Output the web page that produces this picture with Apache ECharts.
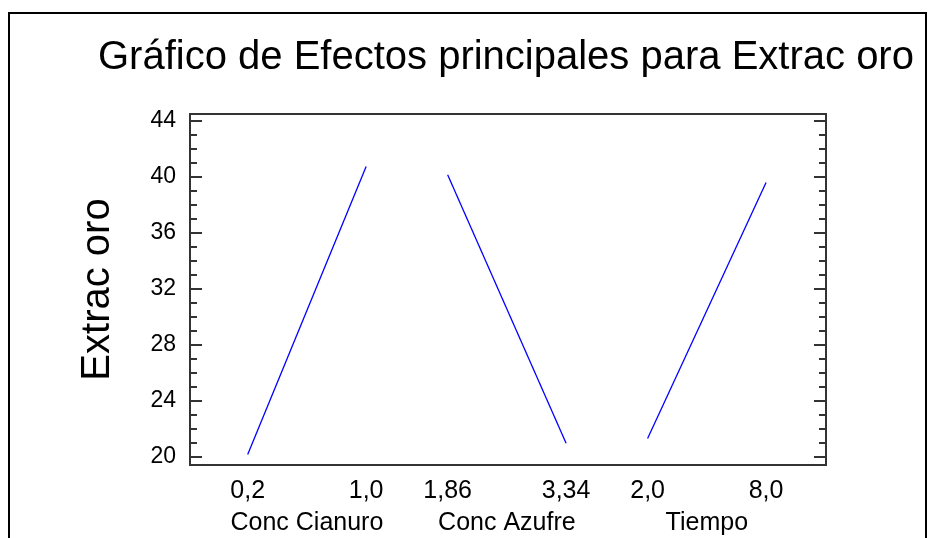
<!DOCTYPE html>
<html>
<head>
<meta charset="utf-8">
<script src="https://cdn.jsdelivr.net/npm/echarts@6/dist/echarts.min.js"></script>
<style>
  html, body { margin: 0; padding: 0; background: #fff; }
  #wrap { position: relative; width: 928px; height: 538px; overflow: hidden; }
  #chart { position: absolute; left: 0; top: 0; width: 928px; height: 538px; }
  #frame { position: absolute; left: 8px; top: 12px; width: 915px; height: 600px;
           border: 2px solid #000; pointer-events: none; }
</style>
</head>
<body>
<div id="wrap"><div id="chart"></div><div id="frame"></div></div>
<script>
// ---- data ----
const titleText = 'Gráfico de Efectos principales para Extrac oro';
const yName = 'Extrac oro';
const factors = ['Conc Cianuro', 'Conc Azufre', 'Tiempo'];
const lowLabels = ['0,2', '1,86', '2,0'];
const highLabels = ['1,0', '3,34', '8,0'];
const lowMeans = [20.15, 40.15, 21.3];
const highMeans = [40.75, 20.95, 39.6];
const yMajorTicks = [20, 24, 28, 32, 36, 40, 44];
const yMinorTicks = [20, 21, 22, 23, 24, 25, 26, 27, 28, 29, 30, 31, 32, 33, 34, 35, 36, 37, 38, 39, 40, 41, 42, 43, 44];

// ---- layout helpers (factor slot positions on the x value axis) ----
const STEP = 1.688;
const X_MIN = -0.487;
const X_MAX = 2 * STEP + 1 + 0.506;
const Y_MIN = 19.4;
const Y_MAX = 44.5;
const FONT = 'Arial, "Liberation Sans", sans-serif';

const pos = (f, level) => f * STEP + level;
const levelPositions = [];
const levelTexts = [];
const factorCenters = [];
factors.forEach((name, f) => {
  levelPositions.push(pos(f, 0), pos(f, 1));
  levelTexts.push(lowLabels[f], highLabels[f]);
  factorCenters.push(pos(f, 0.5));
});
const nearestIndex = (arr, v) => {
  let best = 0;
  arr.forEach((p, i) => { if (Math.abs(p - v) < Math.abs(arr[best] - v)) best = i; });
  return best;
};

const series = factors.map((name, f) => ({
  name: name,
  type: 'line',
  xAxisIndex: 0,
  yAxisIndex: 0,
  symbol: 'none',
  silent: true,
  lineStyle: { color: '#0000ff', width: 1.3 },
  data: [[pos(f, 0), lowMeans[f]], [pos(f, 1), highMeans[f]]]
}));

const tickStyle = { color: '#333', width: 2 };
function yAx(position, values, len, labels) {
  return {
    type: 'value', position: position, min: Y_MIN, max: Y_MAX,
    axisLine: { show: false, onZero: false },
    splitLine: { show: false },
    axisTick: { show: true, inside: true, length: len, customValues: values, lineStyle: tickStyle },
    axisLabel: labels ? {
      show: true, customValues: values, margin: 14,
      fontFamily: FONT, fontSize: 23, color: '#000'
    } : { show: false },
    name: labels ? yName : '',
    nameLocation: 'middle',
    nameGap: 72,
    nameTextStyle: { fontFamily: FONT, fontSize: 40, color: '#000' }
  };
}

const chart = echarts.init(document.getElementById('chart'), null, { renderer: 'canvas' });
chart.setOption({
  animation: false,
  backgroundColor: 'transparent',
  title: {
    text: titleText,
    left: 98, top: 38, padding: 0,
    textStyle: { fontFamily: FONT, fontSize: 40, fontWeight: 'normal', color: '#000' }
  },
  grid: {
    left: 190, right: 102, top: 114, bottom: 73,
    show: true, borderColor: '#333', borderWidth: 2, backgroundColor: 'transparent'
  },
  xAxis: [
    {
      type: 'value', min: X_MIN, max: X_MAX, position: 'bottom',
      axisLine: { show: false, onZero: false }, axisTick: { show: false }, splitLine: { show: false },
      axisLabel: {
        customValues: levelPositions, margin: 14,
        fontFamily: FONT, fontSize: 25, color: '#000',
        formatter: v => levelTexts[nearestIndex(levelPositions, v)]
      }
    },
    {
      type: 'value', min: X_MIN, max: X_MAX, position: 'bottom',
      axisLine: { show: false, onZero: false }, axisTick: { show: false }, splitLine: { show: false },
      axisLabel: {
        customValues: factorCenters, margin: 46,
        fontFamily: FONT, fontSize: 25, color: '#000',
        formatter: v => factors[nearestIndex(factorCenters, v)]
      }
    }
  ],
  yAxis: [
    yAx('left', yMajorTicks, 12, true),
    yAx('left', yMinorTicks, 7, false),
    yAx('right', yMajorTicks, 12, false),
    yAx('right', yMinorTicks, 7, false)
  ],
  series: series
});
</script>
</body>
</html>
